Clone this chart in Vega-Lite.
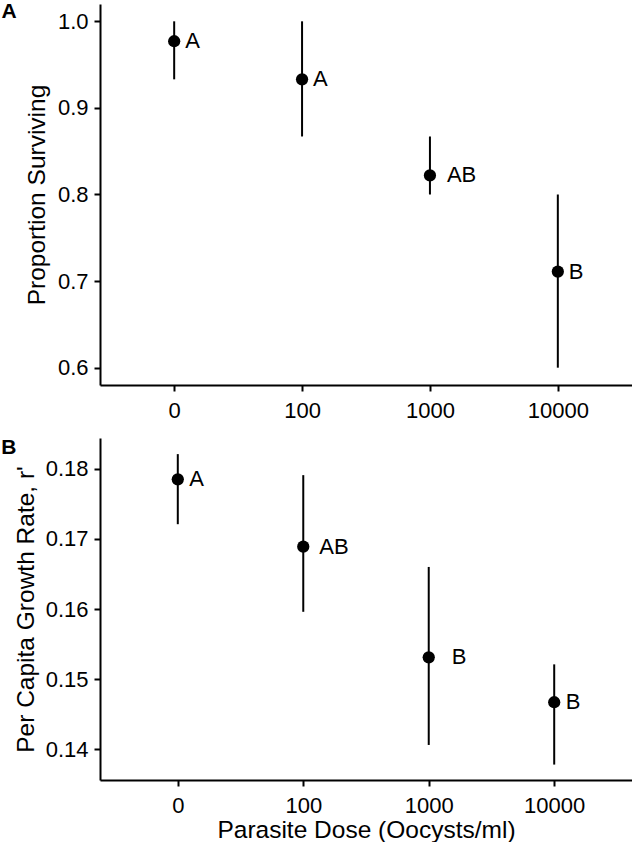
{
  "$schema": "https://vega.github.io/schema/vega-lite/v6.json",
  "padding": {"left": 1, "top": 1, "right": 0, "bottom": 0},
  "config": {
    "font": "Liberation Sans",
    "view": {"stroke": null},
    "axis": {
      "domainColor": "black", "domainWidth": 2,
      "tickColor": "black", "tickWidth": 2, "tickSize": 6,
      "labelColor": "black", "labelFontSize": 22,
      "titleFontSize": 24.5, "titleFontWeight": "normal", "titleColor": "black",
      "grid": false
    },
    "axisX": {"labelPadding": 9, "labelAngle": 0, "titlePadding": 2},
    "axisY": {"labelPadding": 6}
  },
  "spacing": 16,
  "vconcat": [
    {
      "width": 532,
      "height": 381,
      "title": {"text": "A", "fontSize": 21, "fontWeight": "bold", "color": "black", "anchor": "start", "frame": "bounds", "baseline": "top", "offset": -18, "dx": -23},
      "data": {"values": [
        {"dose": "0", "mean": 0.977, "lo": 0.933, "hi": 1.0, "label": "A"},
        {"dose": "100", "mean": 0.933, "lo": 0.867, "hi": 1.0, "label": "A"},
        {"dose": "1000", "mean": 0.822, "lo": 0.800, "hi": 0.867, "label": "AB"},
        {"dose": "10000", "mean": 0.711, "lo": 0.600, "hi": 0.800, "label": "B"}
      ]},
      "encoding": {
        "x": {"field": "dose", "type": "ordinal", "sort": null, "scale": {"type": "point", "padding": 0.58}, "axis": {"title": null}}
      },
      "layer": [
        {
          "mark": {"type": "rule", "strokeWidth": 2, "color": "black"},
          "encoding": {
            "y": {"field": "lo", "type": "quantitative", "scale": {"domain": [0.58, 1.02], "nice": false, "zero": false}, "axis": {"title": "Proportion Surviving", "titlePadding": 8, "values": [0.6, 0.7, 0.8, 0.9, 1.0], "format": ".1f"}},
            "y2": {"field": "hi"}
          }
        },
        {
          "mark": {"type": "point", "filled": true, "size": 150, "color": "black", "opacity": 1},
          "encoding": {
            "y": {"field": "mean", "type": "quantitative", "axis": {"title": "Proportion Surviving", "titlePadding": 8, "values": [0.6, 0.7, 0.8, 0.9, 1.0], "format": ".1f"}}
          }
        },
        {
          "transform": [{"filter": "datum.label !== 'AB'"}],
          "mark": {"type": "text", "align": "left", "baseline": "middle", "dx": 11, "fontSize": 22, "color": "black"},
          "encoding": {
            "y": {"field": "mean", "type": "quantitative", "axis": {"title": "Proportion Surviving", "titlePadding": 8, "values": [0.6, 0.7, 0.8, 0.9, 1.0], "format": ".1f"}},
            "text": {"field": "label"}
          }
        },
        {
          "transform": [{"filter": "datum.label === 'AB'"}],
          "mark": {"type": "text", "align": "left", "baseline": "middle", "dx": 17, "fontSize": 22, "color": "black"},
          "encoding": {
            "y": {"field": "mean", "type": "quantitative", "axis": {"title": "Proportion Surviving", "titlePadding": 8, "values": [0.6, 0.7, 0.8, 0.9, 1.0], "format": ".1f"}},
            "text": {"field": "label"}
          }
        }
      ]
    },
    {
      "width": 532,
      "height": 342,
      "title": {"text": "B", "fontSize": 21, "fontWeight": "bold", "color": "black", "anchor": "start", "frame": "bounds", "baseline": "top", "offset": -20, "dx": -12},
      "data": {"values": [
        {"dose": "0", "mean": 0.1785, "lo": 0.1721, "hi": 0.1821, "label": "A"},
        {"dose": "100", "mean": 0.1689, "lo": 0.1596, "hi": 0.1791, "label": "AB"},
        {"dose": "1000", "mean": 0.1531, "lo": 0.1406, "hi": 0.1660, "label": "B"},
        {"dose": "10000", "mean": 0.1467, "lo": 0.1378, "hi": 0.1521, "label": "B"}
      ]},
      "encoding": {
        "x": {"field": "dose", "type": "ordinal", "sort": null, "scale": {"type": "point", "padding": 0.62}, "axis": {"title": "Parasite Dose (Oocysts/ml)"}}
      },
      "layer": [
        {
          "mark": {"type": "rule", "strokeWidth": 2, "color": "black"},
          "encoding": {
            "y": {"field": "lo", "type": "quantitative", "scale": {"domain": [0.1356, 0.1844], "nice": false, "zero": false}, "axis": {"title": "Per Capita Growth Rate, r'", "titlePadding": 7, "values": [0.14, 0.15, 0.16, 0.17, 0.18], "format": ".2f"}},
            "y2": {"field": "hi"}
          }
        },
        {
          "mark": {"type": "point", "filled": true, "size": 150, "color": "black", "opacity": 1},
          "encoding": {
            "y": {"field": "mean", "type": "quantitative", "axis": {"title": "Per Capita Growth Rate, r'", "titlePadding": 7, "values": [0.14, 0.15, 0.16, 0.17, 0.18], "format": ".2f"}}
          }
        },
        {
          "transform": [{"filter": "datum.label !== 'AB' && datum.dose !== '1000'"}],
          "mark": {"type": "text", "align": "left", "baseline": "middle", "dx": 11.5, "fontSize": 22, "color": "black"},
          "encoding": {
            "y": {"field": "mean", "type": "quantitative", "axis": {"title": "Per Capita Growth Rate, r'", "titlePadding": 7, "values": [0.14, 0.15, 0.16, 0.17, 0.18], "format": ".2f"}},
            "text": {"field": "label"}
          }
        },
        {
          "transform": [{"filter": "datum.label === 'AB'"}],
          "mark": {"type": "text", "align": "left", "baseline": "middle", "dx": 16, "fontSize": 22, "color": "black"},
          "encoding": {
            "y": {"field": "mean", "type": "quantitative", "axis": {"title": "Per Capita Growth Rate, r'", "titlePadding": 7, "values": [0.14, 0.15, 0.16, 0.17, 0.18], "format": ".2f"}},
            "text": {"field": "label"}
          }
        },
        {
          "transform": [{"filter": "datum.dose === '1000'"}],
          "mark": {"type": "text", "align": "left", "baseline": "middle", "dx": 23, "fontSize": 22, "color": "black"},
          "encoding": {
            "y": {"field": "mean", "type": "quantitative", "axis": {"title": "Per Capita Growth Rate, r'", "titlePadding": 7, "values": [0.14, 0.15, 0.16, 0.17, 0.18], "format": ".2f"}},
            "text": {"field": "label"}
          }
        }
      ]
    }
  ]
}
